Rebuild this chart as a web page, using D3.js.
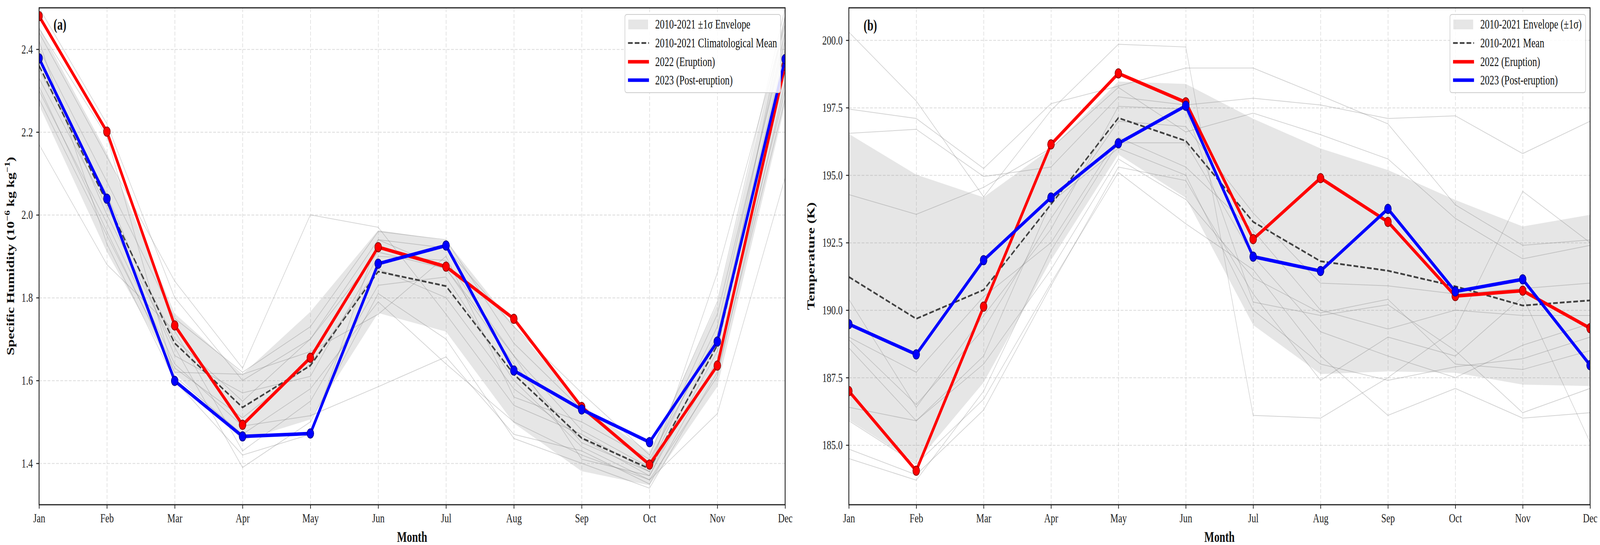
<!DOCTYPE html>
<html>
<head>
<meta charset="utf-8">
<script src="https://cdn.jsdelivr.net/npm/d3@7/dist/d3.min.js"></script>
<style>
  html, body { margin: 0; padding: 0; background: #ffffff; overflow: hidden; }
  svg { display: block; }
</style>
</head>
<body>
<svg id="chart" viewBox="0 0 5651 1394" preserveAspectRatio="none" style="width:100vw;height:100vh"></svg>
<script>
// ---------------- DATA ----------------
const months = ["Jan","Feb","Mar","Apr","May","Jun","Jul","Aug","Sep","Oct","Nov","Dec"];

// Panel (a): specific humidity (10^-6 kg/kg)
const humidityTicks = [1.4, 1.6, 1.8, 2.0, 2.2, 2.4];
const humidityMean  = [2.36, 2.03, 1.69, 1.535, 1.636, 1.863, 1.828, 1.615, 1.461, 1.387, 1.685, 2.375];
const humiditySigma = [0.095, 0.12, 0.072, 0.08, 0.13, 0.10, 0.11, 0.118, 0.08, 0.04, 0.10, 0.11];
const humidity2022  = [2.48, 2.201, 1.733, 1.493, 1.655, 1.922, 1.875, 1.749, 1.536, 1.397, 1.636, 2.36];
const humidity2023  = [2.378, 2.039, 1.599, 1.465, 1.472, 1.882, 1.926, 1.624, 1.530, 1.451, 1.694, 2.376];
const humidityYears = [
  [2.50, 2.22, 1.80, 1.60, 1.70, 1.94, 1.92, 1.73, 1.57, 1.42, 1.79, 2.50],
  [2.17, 1.88, 1.72, 1.43, 1.55, 1.83, 1.85, 1.60, 1.44, 1.36, 1.52, 2.09],
  [2.44, 2.14, 1.84, 1.63, 2.00, 1.97, 1.76, 1.54, 1.47, 1.38, 1.86, 2.46],
  [2.40, 2.08, 1.75, 1.62, 1.73, 1.96, 1.94, 1.69, 1.53, 1.40, 1.76, 2.42],
  [2.35, 2.05, 1.66, 1.57, 1.61, 1.90, 1.89, 1.66, 1.48, 1.39, 1.73, 2.44],
  [2.30, 1.98, 1.64, 1.49, 1.515, 1.585, 1.657, 1.47, 1.43, 1.35, 1.65, 2.30],
  [2.28, 1.95, 1.63, 1.51, 1.64, 1.87, 1.80, 1.58, 1.46, 1.37, 1.70, 2.35],
  [2.33, 2.02, 1.70, 1.55, 1.70, 1.91, 1.87, 1.64, 1.45, 1.38, 1.69, 2.38],
  [2.38, 2.00, 1.68, 1.39, 1.50, 1.81, 1.70, 1.46, 1.40, 1.34, 1.62, 2.28],
  [2.45, 2.19, 1.61, 1.47, 1.58, 1.79, 1.64, 1.50, 1.42, 1.36, 1.61, 2.32],
  [2.31, 1.96, 1.62, 1.615, 1.67, 1.76, 1.90, 1.56, 1.50, 1.41, 1.71, 2.40],
  [2.42, 1.93, 1.60, 1.42, 1.47, 1.94, 1.87, 1.66, 1.41, 1.37, 1.67, 2.48]
];

// Panel (b): temperature (K)
const tempTicks = [185.0, 187.5, 190.0, 192.5, 195.0, 197.5, 200.0];
const tempMean  = [191.23, 189.68, 190.75, 193.92, 197.12, 196.27, 193.27, 191.81, 191.46, 190.88, 190.17, 190.36];
const tempSigma = [5.3, 5.34, 3.43, 2.07, 1.35, 2.11, 3.82, 4.18, 3.73, 3.2, 2.93, 3.17];
const temp2022  = [187.0, 184.05, 190.13, 196.14, 198.77, 197.70, 192.63, 194.89, 193.27, 190.52, 190.72, 189.33];
const temp2023  = [189.48, 188.36, 191.85, 194.17, 196.18, 197.57, 191.98, 191.45, 193.75, 190.69, 191.14, 187.96];
const tempYears = [
  [200.3, 197.75, 194.2, 197.4, 199.85, 199.75, 186.1, 186.0, 187.5, 189.3, 194.4, 192.5],
  [197.45, 197.1, 195.25, 197.65, 198.3, 198.97, 198.97, 197.95, 196.9, 193.9, 192.4, 192.6],
  [196.55, 196.7, 194.95, 195.3, 197.9, 197.6, 197.85, 197.6, 197.1, 197.2, 195.8, 197.0],
  [194.28, 193.55, 194.55, 196.0, 198.25, 196.6, 197.3, 196.5, 195.6, 193.4, 191.9, 192.4],
  [190.4, 186.4, 189.8, 193.0, 197.55, 197.45, 190.3, 189.8, 190.2, 188.5, 186.2, 187.1],
  [189.0, 187.7, 190.5, 192.5, 196.4, 195.3, 192.95, 190.0, 189.3, 190.0, 189.8, 189.8],
  [188.6, 185.9, 188.3, 194.0, 196.0, 195.0, 190.0, 188.0, 187.4, 187.9, 188.2, 189.0],
  [186.4, 185.9, 188.0, 191.5, 195.6, 194.1, 191.2, 189.9, 190.4, 188.0, 187.8, 188.5],
  [185.9, 184.3, 186.7, 191.0, 195.1, 193.2, 191.5, 188.3, 186.1, 187.1, 186.0, 186.2],
  [184.85, 183.9, 186.3, 190.9, 195.3, 194.8, 190.6, 187.4, 189.0, 188.3, 190.5, 185.1],
  [184.5, 183.7, 187.0, 192.2, 196.2, 196.2, 192.0, 189.2, 188.3, 187.5, 188.7, 189.5],
  [188.9, 186.5, 189.3, 193.4, 197.0, 196.8, 193.6, 191.0, 190.9, 190.6, 190.8, 191.0]
];

const legendA = ["2010-2021 \u00B11\u03C3 Envelope", "2010-2021 Climatological Mean", "2022 (Eruption)", "2023 (Post-eruption)"];
const legendB = ["2010-2021 Envelope (\u00B11\u03C3)", "2010-2021 Mean", "2022 (Eruption)", "2023 (Post-eruption)"];

// ---------------- DRAWING ----------------
const FONT = "'Liberation Serif', 'Times New Roman', Times, serif";
const svg = d3.select("#chart");
svg.append("rect").attr("width", 5651).attr("height", 1394).attr("fill", "#fff");

function drawPanel(cfg) {
  const { id, x0, x1, y0, y1, domain, ticks, mean, sigma, years, s22, s23, legend, legendX, legendW, letter } = cfg;
  const x = d3.scalePoint().domain(months).range([x0, x1]);
  const y = d3.scaleLinear().domain(domain).range([y1, y0]);
  const g = svg.append("g");

  g.append("g").attr("transform", `translate(0,${y1})`)
    .call(d3.axisBottom(x).tickSize(-(y1 - y0)).tickFormat(""))
    .call(a => a.select(".domain").remove())
    .selectAll("line").attr("stroke", "#b0b0b0").attr("stroke-opacity", 0.45)
    .attr("stroke-width", 2).attr("stroke-dasharray", "10,5");
  g.append("g").attr("transform", `translate(${x0},0)`)
    .call(d3.axisLeft(y).tickValues(ticks).tickSize(-(x1 - x0)).tickFormat(""))
    .call(a => a.select(".domain").remove())
    .selectAll("line").attr("stroke", "#b0b0b0").attr("stroke-opacity", 0.45)
    .attr("stroke-width", 2).attr("stroke-dasharray", "10,5");

  svg.append("clipPath").attr("id", "clip" + id)
    .append("rect").attr("x", x0).attr("y", y0).attr("width", x1 - x0).attr("height", y1 - y0);
  const plot = g.append("g").attr("clip-path", `url(#clip${id})`);

  const area = d3.area()
    .x((d, i) => x(months[i]))
    .y0((d, i) => y(mean[i] - sigma[i]))
    .y1((d, i) => y(mean[i] + sigma[i]));
  plot.append("path").datum(mean).attr("d", area)
    .attr("fill", "#808080").attr("fill-opacity", 0.2);

  const line = d3.line().x((d, i) => x(months[i])).y(d => y(d));

  plot.selectAll(".yr").data(years).enter().append("path")
    .attr("d", line).attr("fill", "none")
    .attr("stroke", "#808080").attr("stroke-opacity", 0.35).attr("stroke-width", 2);

  plot.append("path").datum(mean).attr("d", line).attr("fill", "none")
    .attr("stroke", "#404040").attr("stroke-width", 4.5).attr("stroke-dasharray", "16.6,7.2");

  [[s22, "#ff0000", "#8b0000"], [s23, "#0000ff", "#00008b"]].forEach(([data, col, edge]) => {
    plot.append("path").datum(data).attr("d", line).attr("fill", "none")
      .attr("stroke", col).attr("stroke-width", 9).attr("stroke-linejoin", "round");
    plot.selectAll(null).data(data).enter().append("circle")
      .attr("cx", (d, i) => x(months[i])).attr("cy", d => y(d)).attr("r", 12)
      .attr("fill", col).attr("stroke", edge).attr("stroke-width", 2);
  });

  const ax = g.append("g").attr("transform", `translate(0,${y1})`)
    .call(d3.axisBottom(x).tickSize(10).tickSizeOuter(0).tickPadding(12));
  const ay = g.append("g").attr("transform", `translate(${x0},0)`)
    .call(d3.axisLeft(y).tickValues(ticks).tickFormat(d3.format(cfg.fmt)).tickSize(10).tickSizeOuter(0).tickPadding(12));
  [ax, ay].forEach(a => {
    a.select(".domain").remove();
    a.selectAll("line").attr("stroke", "#222").attr("stroke-width", 2.5);
    a.selectAll("text").attr("font-family", FONT).attr("font-size", 32).attr("fill", "#222");
  });

  g.append("rect").attr("x", x0).attr("y", y0).attr("width", x1 - x0).attr("height", y1 - y0)
    .attr("fill", "none").attr("stroke", "#222").attr("stroke-width", 3);

  g.append("text").attr("x", (x0 + x1) / 2).attr("y", 1386).attr("text-anchor", "middle")
    .attr("font-family", FONT).attr("font-weight", "bold").attr("font-size", 37).attr("fill", "#111")
    .text("Month");

  g.append("text").attr("x", letter[0]).attr("y", letter[1]).attr("font-family", FONT)
    .attr("font-weight", "bold").attr("font-size", 39).attr("fill", "#111").text(`(${id})`);

  const lg = g.append("g");
  lg.append("rect").attr("x", legendX).attr("y", 37).attr("width", legendW).attr("height", 200)
    .attr("rx", 7).attr("fill", "#fff").attr("fill-opacity", 0.85)
    .attr("stroke", "#cccccc").attr("stroke-width", 2);
  const rowY = [62, 110, 158, 205];
  const hx0 = legendX + 11, hx1 = legendX + 85;
  lg.append("rect").attr("x", hx0 + 1).attr("y", rowY[0] - 12).attr("width", hx1 - hx0 - 4).attr("height", 25)
    .attr("fill", "#808080").attr("fill-opacity", 0.2);
  lg.append("line").attr("x1", hx0).attr("x2", hx1).attr("y1", rowY[1]).attr("y2", rowY[1])
    .attr("stroke", "#404040").attr("stroke-width", 4.5).attr("stroke-dasharray", "16.6,7.2");
  lg.append("line").attr("x1", hx0).attr("x2", hx1).attr("y1", rowY[2]).attr("y2", rowY[2])
    .attr("stroke", "#ff0000").attr("stroke-width", 9);
  lg.append("line").attr("x1", hx0).attr("x2", hx1).attr("y1", rowY[3]).attr("y2", rowY[3])
    .attr("stroke", "#0000ff").attr("stroke-width", 9);
  legend.forEach((t, i) => {
    lg.append("text").attr("x", legendX + 107).attr("y", rowY[i] + 11)
      .attr("font-family", FONT).attr("font-size", 33).attr("fill", "#111").text(t);
  });
  return g;
}

drawPanel({
  id: "a", x0: 138, x1: 2773, y0: 20, y1: 1291, domain: [1.30, 2.50], ticks: humidityTicks, fmt: ".1f",
  mean: humidityMean, sigma: humiditySigma, years: humidityYears, s22: humidity2022, s23: humidity2023,
  legend: legendA, legendX: 2207, legendW: 550, letter: [189, 76]
});
drawPanel({
  id: "b", x0: 2998, x1: 5616, y0: 20, y1: 1291, domain: [182.79, 201.2], ticks: tempTicks, fmt: ".1f",
  mean: tempMean, sigma: tempSigma, years: tempYears, s22: temp2022, s23: temp2023,
  legend: legendB, legendX: 5121, legendW: 479, letter: [3050, 78]
});

const yla = svg.append("text").attr("transform", "translate(50,655) rotate(-90)")
  .attr("text-anchor", "middle").attr("font-family", FONT).attr("font-weight", "bold")
  .attr("font-size", 37).attr("fill", "#111");
yla.append("tspan").text("Specific Humidity (10");
yla.append("tspan").attr("dy", -15).attr("font-size", 26).text("\u22126");
yla.append("tspan").attr("dy", 15).text(" kg kg");
yla.append("tspan").attr("dy", -15).attr("font-size", 26).text("\u22121");
yla.append("tspan").attr("dy", 15).text(")");

svg.append("text").attr("transform", "translate(2876,655) rotate(-90)")
  .attr("text-anchor", "middle").attr("font-family", FONT).attr("font-weight", "bold")
  .attr("font-size", 38).attr("fill", "#111").text("Temperature (K)");
</script>
</body>
</html>
